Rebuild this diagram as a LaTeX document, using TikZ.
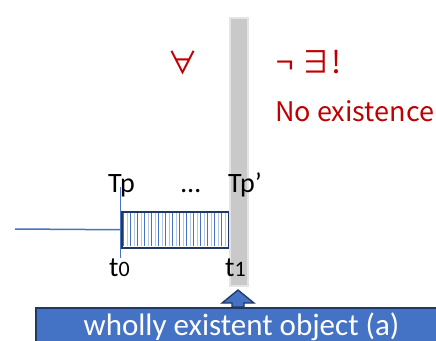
\documentclass[tikz,border=0pt]{standalone}
\usepackage{fontspec}
\setmainfont{Carlito}
\newfontfamily\jpfont{Noto Sans CJK JP}
\definecolor{myred}{HTML}{C00000}
\definecolor{myblue}{HTML}{4472C4}
\definecolor{mynavy}{HTML}{1F3864}
\definecolor{mylight}{HTML}{B4C7E7}
\definecolor{barfill}{HTML}{C9C9C9}
\definecolor{barline}{HTML}{E4E4E4}
\begin{document}
\begin{tikzpicture}[x=1pt,y=-1pt,
  lbl/.style={inner sep=0pt,anchor=base west,font=\fontsize{28}{28}\selectfont},
  redlbl/.style={inner sep=0pt,anchor=base west,text=myred,font=\jpfont\fontsize{27}{27}\selectfont},
  redsym/.style={inner sep=0pt,anchor=base west,text=myred,font=\jpfont\fontsize{31}{31}\selectfont},
  timeline/.style={myblue,line width=1.5pt}]
\useasboundingbox (0,0) rectangle (436,340);
% hatched interval
\foreach \i in {0,...,14} {
  \draw[myblue,line width=0.9pt] (123.5+7*\i,212) -- (123.5+7*\i,246);
  \draw[mylight,line width=0.9pt] (127+7*\i,212) -- (127+7*\i,246);
}
\node[draw=mynavy,line width=1.5pt,minimum width=107pt,minimum height=36pt,inner sep=0pt,anchor=north west] (interval) at (121,211) {};
% timeline
\coordinate (start) at (15,229);
\draw[timeline] (start) -- (interval.west);
\coordinate (tick top) at (120,187);
\coordinate (tick bot) at (120,258);
\draw[myblue,line width=0.8pt] (tick top) -- (tick bot);
% gray bar
\node[fill=barfill,draw=barline,line width=1.5pt,minimum width=18pt,minimum height=268pt,inner sep=0pt,anchor=north west] (bar) at (229,17) {};
% labels
\node[lbl] (tp) at (108,192) {Tp};
\node[lbl] (dots) at (181,192) {…};
\node[lbl] (tpp) at (228,192) {Tp’};
\node[lbl] (t0) at (109,276) {t{\fontsize{22}{22}\selectfont 0}};
\node[lbl] (t1) at (225,276) {t{\fontsize{22}{22}\selectfont 1}};
% red labels
\node[redsym] (forall) at (167,74) {∀};
\node[redsym] (notex) at (276,73) {¬ ∃!};
\node[redlbl] (noex) at (275,121) {No existence};
% bottom box
\node[fill=myblue,draw=mynavy,line width=1.5pt,minimum width=420pt,minimum height=45pt,inner sep=0pt,anchor=north west] (box) at (35,307) {};
\node[inner sep=0pt,anchor=base,text=white,font=\fontsize{31}{31}\selectfont] (boxtxt) at (241.5,335) {wholly existent object (a)};
% arrow
\draw[fill=myblue,draw=mynavy,line width=1.3pt,line join=miter]
  (238,290) -- (254,303) -- (244,303) -- (244,307) -- (232,307) -- (232,303) -- (222,303) -- cycle;
\end{tikzpicture}
\end{document}
